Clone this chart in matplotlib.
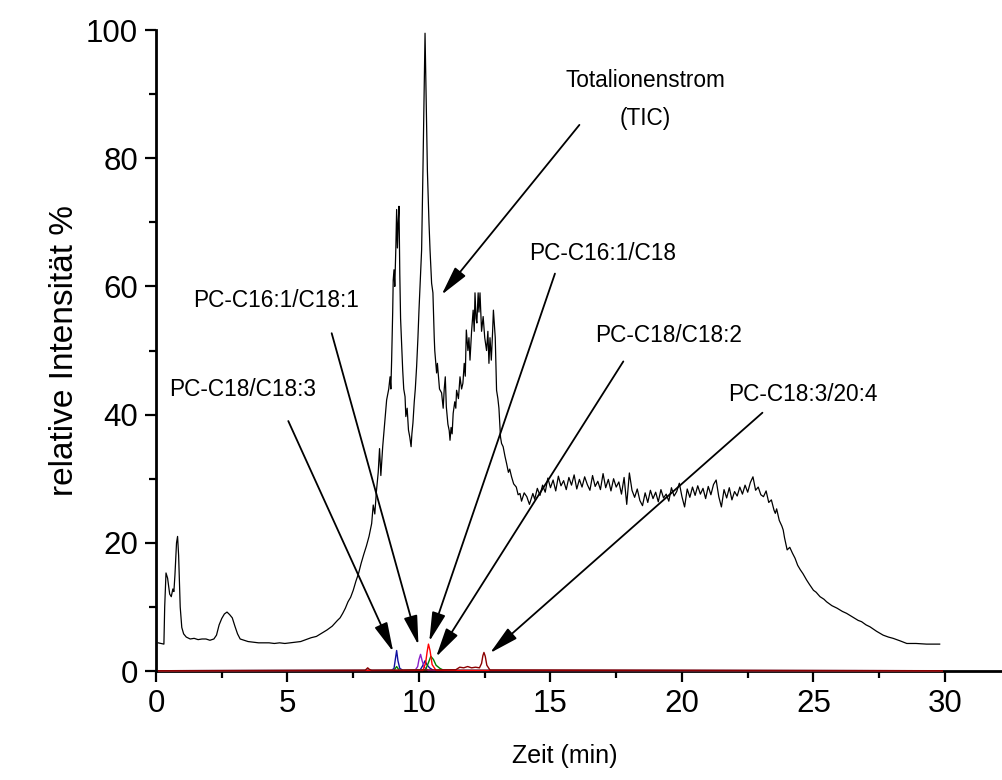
import matplotlib
matplotlib.use("Agg")
import matplotlib.pyplot as plt
from matplotlib.ticker import MultipleLocator
import numpy as np

plt.rcParams['font.family'] = ['Liberation Sans', 'DejaVu Sans']

# Totalionenstrom (TIC)
tic_t = [0.08, 0.30, 0.33, 0.38, 0.44, 0.52, 0.58, 0.64, 0.68, 0.72, 0.78, 0.82, 0.86, 0.92, 0.98,
         1.05, 1.15, 1.30, 1.45, 1.60, 1.75, 1.90, 2.05, 2.20, 2.30, 2.40, 2.50, 2.60, 2.70, 2.80,
         2.90, 3.00, 3.10, 3.20, 3.35, 3.50, 3.70, 3.90, 4.10, 4.30, 4.50, 4.70, 4.90, 5.10, 5.30,
         5.50, 5.70, 5.90, 6.10, 6.30, 6.50, 6.70, 6.90, 7.00, 7.10, 7.20, 7.30, 7.40, 7.50, 7.60,
         7.70, 7.80, 7.90, 8.00, 8.10, 8.20, 8.26, 8.32, 8.38, 8.45, 8.50, 8.55, 8.62, 8.70, 8.77,
         8.85, 8.90, 8.93, 8.96, 9.00, 9.02, 9.05, 9.08, 9.12, 9.15, 9.18, 9.21, 9.24, 9.27, 9.30,
         9.34, 9.38, 9.42, 9.47, 9.50, 9.55, 9.60, 9.65, 9.70, 9.73, 9.77, 9.82, 9.86, 9.91, 9.96,
         10.00, 10.05, 10.10, 10.15, 10.20, 10.23, 10.27, 10.32, 10.38, 10.42, 10.48, 10.53, 10.58,
         10.60, 10.67, 10.70, 10.78, 10.86, 10.92, 10.96, 11.00, 11.04, 11.10, 11.15, 11.18, 11.22,
         11.26, 11.30, 11.36, 11.40, 11.43, 11.50, 11.56, 11.62, 11.67, 11.72, 11.76, 11.80, 11.86,
         11.90, 11.94, 12.00, 12.06, 12.10, 12.13, 12.17, 12.20, 12.25, 12.28, 12.32, 12.38, 12.44,
         12.50, 12.57, 12.62, 12.66, 12.70, 12.75, 12.80, 12.83, 12.90, 12.95, 13.00, 13.04, 13.10,
         13.14, 13.20, 13.27, 13.33, 13.40, 13.45, 13.52, 13.60, 13.70, 13.77, 13.84, 13.90, 14.00,
         14.10, 14.20, 14.33,
         14.4, 14.5, 14.6, 14.7, 14.8, 14.9, 15.0, 15.1, 15.2, 15.3, 15.4, 15.5, 15.6, 15.7, 15.8,
         15.9, 16.0, 16.1, 16.2, 16.3, 16.4, 16.5, 16.6, 16.7, 16.8, 16.9, 17.0, 17.1, 17.2, 17.3,
         17.4, 17.5, 17.6, 17.7, 17.8, 17.9, 18.0, 18.1, 18.2, 18.3, 18.4, 18.5, 18.6, 18.7, 18.8,
         18.9, 19.0, 19.1, 19.2, 19.3, 19.4, 19.5, 19.6, 19.7, 19.8, 19.9, 20.0, 20.1, 20.2, 20.3,
         20.4, 20.5, 20.6, 20.7, 20.8, 20.9, 21.0, 21.1, 21.2, 21.3, 21.4, 21.5, 21.6, 21.7, 21.8,
         21.9, 22.0, 22.1, 22.2, 22.3, 22.4, 22.5, 22.6, 22.7, 22.8, 22.9, 23.0, 23.1, 23.2, 23.3,
         23.4, 23.5, 23.55, 23.6, 23.7, 23.8, 23.85, 23.9, 24.0, 24.1, 24.2, 24.3, 24.4, 24.5, 24.6,
         24.74, 24.85, 25.0, 25.1, 25.25, 25.4, 25.5, 25.7, 25.9, 26.1, 26.26, 26.5, 26.7, 26.83,
         27.0, 27.15, 27.4, 27.65, 27.85, 28.03, 28.3, 28.55, 28.9, 29.3, 29.8]
tic_v = [4.4, 4.2, 10.0, 15.3, 14.5, 12.0, 11.6, 12.8, 12.4, 15.0, 20.0, 21.0, 18.0, 10.0, 6.8,
         5.8, 5.3, 5.0, 5.1, 4.9, 5.0, 5.0, 4.8, 5.0, 5.6, 7.2, 8.2, 8.9, 9.2, 8.8,
         8.3, 7.0, 5.8, 5.0, 4.8, 4.6, 4.5, 4.4, 4.4, 4.4, 4.3, 4.4, 4.3, 4.4, 4.5,
         4.6, 4.9, 5.2, 5.4, 5.9, 6.4, 7.0, 7.9, 8.3, 9.0, 9.8, 10.8, 11.5, 12.6, 14.0,
         15.2, 16.8, 18.2, 19.5, 21.0, 23.0, 25.9, 24.5, 28.0, 31.0, 34.7, 30.5, 35.0, 39.0, 42.3,
         44.0, 45.9, 44.0, 48.5, 56.0, 61.0, 62.6, 60.0, 66.0, 72.0, 66.0, 70.0, 72.5, 62.0, 55.0,
         51.0, 47.0, 44.0, 42.8, 39.7, 41.0, 37.6, 36.5, 35.0, 37.0, 38.7, 42.0, 44.0, 47.5, 52.0,
         56.3, 61.0, 65.7, 78.0, 92.0, 99.5, 90.0, 78.0, 70.0, 65.7, 60.5, 59.0, 52.0,
         50.0, 46.5, 48.0, 44.0, 43.4, 41.0, 44.0, 45.9, 41.2, 38.5, 37.5, 36.0, 38.0,
         37.0, 40.2, 42.0, 41.0, 43.8, 42.5, 45.9, 44.0, 44.9, 48.0, 46.0, 53.2, 50.0,
         52.0, 48.5, 53.0, 56.3, 53.0, 59.0, 55.0, 54.3, 59.0, 56.0, 59.0, 53.0, 55.3,
         52.0, 50.0, 53.0, 48.0, 52.0, 48.5, 53.0, 56.3, 52.0, 43.8, 42.5, 41.0, 36.5,
         35.5, 35.0, 33.5, 32.4, 31.0, 31.5, 30.3, 29.2, 28.7, 27.5, 27.7, 26.5, 27.8,
         27.2, 26.0, 27.7,
         26.8, 28.5, 27.4, 29.0, 27.9, 30.1, 28.6, 29.8, 28.1, 30.4, 28.9, 29.7, 28.3, 30.2, 29.0,
         30.6, 28.4, 29.9, 28.7, 30.3, 29.1, 28.2, 30.5, 28.8, 29.6, 28.3, 30.8, 28.6, 29.9, 28.1,
         30.0, 28.7, 29.5, 27.6, 30.2, 26.0, 30.9, 28.2, 27.1, 28.4, 26.6, 25.8, 27.8, 26.3, 28.2,
         26.9, 27.9, 26.4, 28.3, 27.0, 27.6, 26.5, 28.6, 27.3, 28.0, 29.3, 27.2, 25.6, 28.4, 27.1,
         28.7, 27.4, 28.9, 27.6, 28.5, 26.9, 28.8, 27.5, 29.1, 29.8, 27.2, 25.6, 28.3, 27.0, 28.6,
         26.7, 28.0, 27.3, 28.7, 27.6, 29.0, 27.9, 29.4, 30.3, 28.2, 28.7, 27.5, 27.2, 28.1, 26.3,
         26.7, 25.1, 24.6, 25.3, 23.5, 22.6, 22.0, 20.8, 18.9, 19.3, 18.4, 17.6, 16.5, 15.8, 15.2,
         14.2, 13.5, 12.6, 12.3, 11.6, 11.2, 10.8, 10.2, 9.8, 9.3, 9.0, 8.4, 7.9, 7.7,
         7.2, 6.9, 6.2, 5.6, 5.3, 5.1, 4.7, 4.3, 4.3, 4.2, 4.2]

# single-ion traces (extracted masses)
blue_t = [0.1, 8.95, 9.05, 9.10, 9.15, 9.20, 9.27, 9.40, 10.05, 10.15, 10.23, 10.30, 10.40, 10.55, 29.9]
blue_v = [0.05, 0.1, 0.4, 1.8, 3.2, 1.6, 0.4, 0.1, 0.2, 0.9, 1.6, 1.0, 0.5, 0.1, 0.05]
purple_t = [0.1, 9.85, 9.95, 10.00, 10.06, 10.12, 10.20, 10.35, 29.9]
purple_v = [0.05, 0.1, 0.7, 1.8, 2.6, 1.6, 0.6, 0.1, 0.05]
red_t = [0.1, 10.15, 10.25, 10.31, 10.36, 10.42, 10.50, 10.65, 29.9]
red_v = [0.05, 0.1, 1.2, 3.0, 4.2, 3.2, 1.0, 0.1, 0.05]
green_t = [0.1, 9.05, 9.15, 9.25, 10.25, 10.35, 10.45, 10.55, 10.65, 10.80, 10.95, 29.9]
green_v = [0.05, 0.1, 0.7, 0.1, 0.2, 1.2, 2.3, 1.8, 0.9, 0.4, 0.1, 0.05]
dred_t = [0.1, 7.95, 8.05, 8.10, 8.20, 11.40, 11.55, 11.70, 11.85, 12.00, 12.15, 12.30, 12.38,
          12.43, 12.47, 12.52, 12.58, 12.70, 29.9]
dred_v = [0.05, 0.1, 0.5, 0.3, 0.1, 0.2, 0.6, 0.5, 0.7, 0.5, 0.6, 0.5, 1.2, 2.4, 2.9, 2.3, 0.9, 0.15, 0.05]

traces = [(blue_t, blue_v, '#1010a0'), (purple_t, purple_v, '#8a1fc8'),
          (green_t, green_v, '#008000'), (red_t, red_v, '#ff0000'),
          (dred_t, dred_v, '#8b0000')]

# label text: (text, text position, arrow tail, arrow tip)
labels = [("PC-C18/C18:3", (3.29, 43.9), (5.03, 39.0), (9.02, 3.0)),
          ("PC-C16:1/C18:1", (4.55, 57.8), (6.68, 52.7), (9.98, 4.05)),
          ("PC-C16:1/C18", (16.97, 65.1), (15.17, 62.0), (10.39, 4.6)),
          ("PC-C18/C18:2", (19.5, 52.3), (17.77, 48.3), (10.65, 2.2)),
          ("PC-C18:3/20:4", (24.6, 43.1), (23.06, 40.3), (12.7, 2.8))]

fig = plt.figure(figsize=(10.02, 7.8), dpi=100)
ax = fig.add_axes([0.1557, 0.1397, 0.8443, 0.8218])

ax.plot(tic_t, tic_v, color='black', lw=0.9, zorder=3)
for t, v, c in traces:
    ax.plot(t, v, color=c, lw=1.0, zorder=5, clip_on=False)

arrow_style = dict(arrowstyle='-|>,head_length=1.8,head_width=0.42', color='black',
                   lw=1.3, shrinkA=0, shrinkB=0, mutation_scale=10)
for text, pos, tail, tip in labels:
    ax.text(pos[0], pos[1], text, fontsize=16.3, ha='center', va='center')
    ax.annotate('', xy=tip, xytext=tail, arrowprops=arrow_style, zorder=6)

ax.text(18.6, 92.2, "Totalionenstrom", fontsize=16.3, ha='center', va='center')
ax.text(18.6, 86.2, "(TIC)", fontsize=16.3, ha='center', va='center')
ax.annotate('', xy=(10.86, 58.7), xytext=(16.1, 85.2), arrowprops=arrow_style, zorder=6)

ax.set_xlim(0, 32.17)
ax.set_ylim(0, 100)
ax.xaxis.set_major_locator(MultipleLocator(5))
ax.xaxis.set_minor_locator(MultipleLocator(2.5))
ax.yaxis.set_major_locator(MultipleLocator(20))
ax.yaxis.set_minor_locator(MultipleLocator(10))

for side in ['top', 'right']:
    ax.spines[side].set_visible(False)
for side in ['left', 'bottom']:
    ax.spines[side].set_linewidth(2.0)

ax.tick_params(which='major', direction='out', length=8, width=1.6, labelsize=22.5, pad=5)
ax.tick_params(which='minor', direction='out', length=5, width=1.6)

ax.set_xlabel("Zeit (min)", fontsize=18)
ax.set_ylabel("relative Intensität %", fontsize=24)
ax.xaxis.set_label_coords((565 - 156) / 846, -(744 - 671) / 641)
ax.yaxis.set_label_coords(-(156 - 80) / 846, 0.5)

fig.savefig("out.png", dpi=100)
